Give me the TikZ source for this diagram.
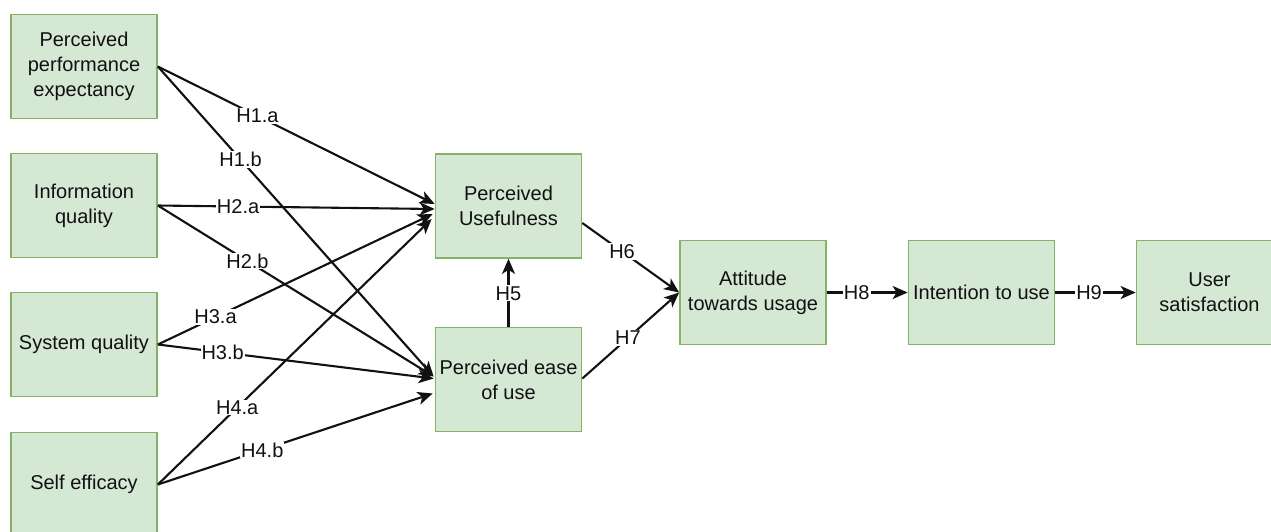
\documentclass[tikz,border=0pt]{standalone}
\usepackage{fontspec}
\setmainfont{Liberation Sans}
\usetikzlibrary{arrows.meta,calc}
\definecolor{boxfill}{HTML}{D5E8D4}
\definecolor{boxline}{HTML}{82B366}
\definecolor{ink}{HTML}{111111}
\begin{document}
\begin{tikzpicture}[x=1pt,y=-1pt,
  every node/.style={font=\fontsize{20pt}{25pt}\selectfont, text=ink},
  construct/.style={draw=boxline, fill=boxfill, line width=1.7pt,
    minimum width=146pt, minimum height=104pt, align=center, inner sep=2pt},
  link/.style={draw=ink, line width=2.1pt,
    -{Stealth[length=15pt,width=13pt,inset=4pt]}},
  hyp/.style={fill=white, inner sep=1pt, font=\fontsize{20pt}{22pt}\selectfont}]
\clip (0,0) rectangle (1271,531);
\fill[white] (0,0) rectangle (1271,531);

% antecedents
\node[construct] (ppe) at (84,66.5)  {Perceived\\performance\\expectancy};
\node[construct] (iq)  at (84,205.5) {Information\\quality};
\node[construct] (sq)  at (84,344.5) {System quality};
\node[construct] (se)  at (84,484.5) {Self efficacy};

% mediators and outcomes
\node[construct] (pu)   at (508.5,206)   {Perceived\\Usefulness};
\node[construct] (peou) at (508.5,379.5) {Perceived ease\\of use};
\node[construct] (att)  at (753,292.5)   {Attitude\\towards usage};
\node[construct] (int)  at (981.5,292.5) {Intention to use};
\node[construct] (us)   at (1209.5,292.5) {User\\satisfaction};

% paths into perceived usefulness
\draw[link] (ppe.east) -- node[hyp,pos=0.36] {H1.a} ($(pu.west)+(0,-2)$);
\draw[link] (iq.east)  -- node[hyp,pos=0.29] {H2.a} ($(pu.west)+(0,3)$);
\draw[link] (sq.east)  -- node[hyp,pos=0.21] {H3.a} ($(pu.west)+(-2,8)$);
\draw[link] (se.east)  -- node[hyp,pos=0.29] {H4.a} ($(pu.west)+(-3,13)$);

% paths into perceived ease of use
\draw[link] (ppe.east) -- node[hyp,pos=0.30] {H1.b} ($(peou.west)+(-1,-3)$);
\draw[link] (iq.east)  -- node[hyp,pos=0.325] {H2.b} ($(peou.west)+(-1,-3)$);
\draw[link] (sq.east)  -- node[hyp,pos=0.235] {H3.b} ($(peou.west)+(-1,-1)$);
\draw[link] (se.east)  -- node[hyp,pos=0.38] {H4.b} ($(peou.west)+(-2,14)$);

% structural paths
\draw[link] (peou.north) -- node[hyp,pos=0.49] {H5} (pu.south);
\draw[link] ($(pu.east)+(0,17)$) -- node[hyp,pos=0.41] {H6} (att.west);
\draw[link] ($(peou.east)+(0,-1)$) -- node[hyp,pos=0.47] {H7} (att.west);
\draw[link] (att.east) -- node[hyp,pos=0.37] {H8} (int.west);
\draw[link] (int.east) -- node[hyp,pos=0.42] {H9} (us.west);
\end{tikzpicture}
\end{document}
